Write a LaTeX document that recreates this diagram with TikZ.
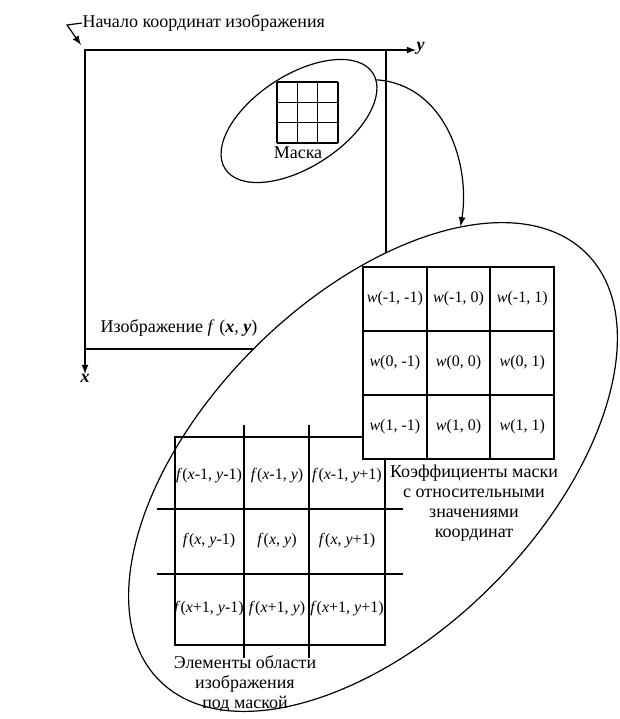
\documentclass[tikz,border=0pt]{standalone}
\usepackage{fontspec}
\setmainfont{Liberation Serif}
\usetikzlibrary{shapes.geometric, arrows}
\tikzset{>=latex}
\tikzset{
  lbl/.style={font=\fontsize{9}{10}\selectfont, inner sep=0pt, align=center},
  cell/.style={font=\fontsize{8}{9}\selectfont, inner sep=0pt},
  oval/.style={ellipse, draw},
}

\begin{document}
\begin{tikzpicture}[x=0.5pt, y=-0.5pt, line width=0.6pt]
  \useasboundingbox (0,0) rectangle (620,719);
  % image frame with its axes
  \coordinate (O) at (85,50);
  \coordinate (origin-tip) at (81,45);
  \node[lbl, anchor=west] (origin-text) at (82,23) {Начало координат изображения};
  \draw[->] (origin-text.west) -- ++(-15,2) -- (origin-tip);
  \draw (O) rectangle (386,349);
  \node[lbl, anchor=west] (y-label) at (416,48) {\textbf{\textit{y}}};
  \node[lbl, anchor=north] (x-label) at (85,374) {\textbf{\textit{x}}};
  \draw[->] (O) -- (y-label.west |- O);
  \draw[->] (O) -- (x-label.north);
  \node[lbl, anchor=west] (image-text) at (100,328) {Изображение \textit{f} (\textbf{\textit{x}}, \textbf{\textit{y}})};
  % mask inside the image
  \node[oval, rotate=33, minimum width=88pt, minimum height=46pt] (mask) at (299,121) {};
  \foreach \k in {0,...,3} {
    \draw ({277+20.33*\k},82) -- ++(0,61);
    \draw (277,{82+20.33*\k}) -- ++(61,0);
  }
  \node[lbl] (mask-text) at (298,153) {Маска};
  % enlarged region under the mask
  \node[oval, fill=white, rotate=45, minimum width=302pt, minimum height=168pt] (region) at (373,467) {};
  \draw[->] (mask.-5) .. controls +(70,5) and +(10,-60) .. (region.25);
  % image elements
  \draw (175,437) rectangle (385,645);
  \foreach \gx in {244,309} \draw (\gx,425) -- (\gx,658);
  \foreach \gy in {509,574} \draw (157,\gy) -- (403,\gy);
  \foreach \r/\ry/\dr in {1/476/-1, 2/541/{}, 3/609/+1}
    \foreach \c/\cx/\dc in {1/209/-1, 2/277/{}, 3/347/+1}
      \node[cell] (f-\r-\c) at (\cx,\ry) {\textit{f}(\textit{x}\dr, \textit{y}\dc)};
  % mask coefficients
  \draw[fill=white] (363,267) rectangle (554,459);
  \foreach \gx in {427,490} \draw (\gx,267) -- (\gx,459);
  \foreach \gy in {331,395} \draw (363,\gy) -- (554,\gy);
  \foreach \r/\a in {1/-1, 2/0, 3/1}
    \foreach \c/\b in {1/-1, 2/0, 3/1}
      \node[cell] (w-\r-\c) at ({363+63.7*(\c-0.5)},{267+64*(\r-0.5)}) {\textit{w}(\a, \b)};
  % captions
  \node[lbl] (coef-text) at (474,503) {Коэффициенты маски\\с относительными\\значениями\\координат};
  \node[lbl] (elem-text) at (245,684) {Элементы области\\изображения\\под маской};
\end{tikzpicture}
\end{document}
